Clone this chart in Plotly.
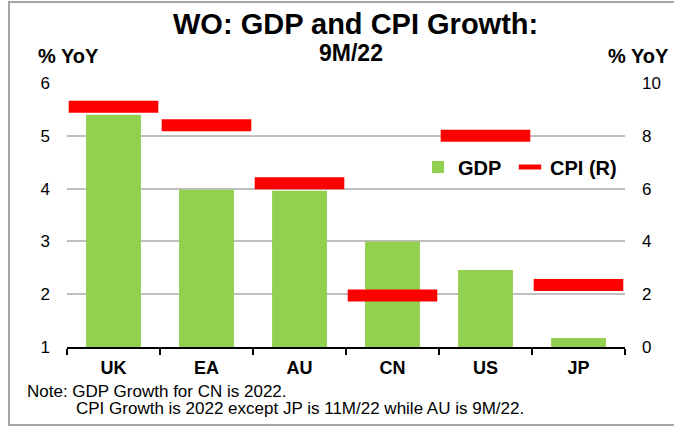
import plotly.graph_objects as go

categories = ["UK", "EA", "AU", "CN", "US", "JP"]
gdp_growth = [5.4, 3.98, 3.96, 3.0, 2.46, 1.17]
cpi_growth = [9.1, 8.4, 6.2, 1.95, 8.0, 2.35]
left_ticks = [1, 2, 3, 4, 5, 6]
right_ticks = [0, 2, 4, 6, 8, 10]

W, H = 674, 427
L, R, T, B = 67, 49, 83, 80
pw, ph = W - L - R, H - T - B

def px_x(p):
    return (p - L) / pw

def px_y(p):
    return (H - B - p) / ph

FONT = "Arial, Liberation Sans, sans-serif"
GREEN = "#92D050"
RED = "#FF0000"

fig = go.Figure()
fig.add_trace(go.Bar(
    x=categories, y=gdp_growth, name="GDP",
    marker=dict(color=GREEN, line=dict(width=0)),
    width=0.59, yaxis="y", legend="legend",
))
fig.add_trace(go.Scatter(
    x=categories, y=cpi_growth, name="CPI (R)", yaxis="y2",
    mode="markers", legend="legend2",
    marker=dict(symbol="line-ew", size=64, color=RED,
                line=dict(color=RED, width=12)),
))

legend_font = dict(size=20, family=FONT, color="black", weight="bold")

fig.update_layout(
    width=W, height=H,
    margin=dict(l=L, r=R, t=T, b=B, autoexpand=False),
    paper_bgcolor="white", plot_bgcolor="white",
    font=dict(family=FONT, color="black"),
    showlegend=True,
    legend=dict(
        orientation="h", x=px_x(418), y=px_y(167),
        xanchor="left", yanchor="middle",
        bgcolor="rgba(0,0,0,0)", font=legend_font, itemwidth=30,
    ),
    legend2=dict(
        orientation="h", x=px_x(510), y=px_y(167),
        xanchor="left", yanchor="middle",
        bgcolor="rgba(0,0,0,0)", font=legend_font, itemwidth=30,
    ),
    xaxis=dict(
        type="category", range=[-0.5, 5.5],
        showline=True, linecolor="black", linewidth=1.5,
        ticks="outside", tickson="boundaries", ticklen=6,
        tickcolor="black", tickwidth=1.5,
        showgrid=False,
        tickfont=dict(size=18, family=FONT, color="black", weight="bold"),
        ticklabelstandoff=4,
    ),
    yaxis=dict(
        range=[1, 6], tickvals=left_ticks,
        showgrid=True, gridcolor="#BFBFBF", gridwidth=1.5,
        showline=False, zeroline=False, ticks="",
        tickfont=dict(size=17, family=FONT, color="black"),
        ticklabelstandoff=16,
    ),
    yaxis2=dict(
        range=[0, 10], tickvals=right_ticks,
        overlaying="y", side="right",
        showgrid=False, showline=False, zeroline=False, ticks="",
        tickfont=dict(size=17, family=FONT, color="black"),
        ticklabelstandoff=16,
    ),
)

annos = [
    dict(text="<b>WO: GDP and CPI Growth:</b>", x=px_x(356), y=px_y(24),
         size=29, xanchor="center"),
    dict(text="<b>9M/22</b>", x=px_x(351), y=px_y(53),
         size=23, xanchor="center"),
    dict(text="<b>% YoY</b>", x=px_x(68), y=px_y(56),
         size=20, xanchor="center"),
    dict(text="<b>% YoY</b>", x=px_x(638), y=px_y(56),
         size=20, xanchor="center"),
    dict(text="Note: GDP Growth for CN is 2022.", x=px_x(25), y=px_y(391),
         size=17, xanchor="left"),
    dict(text="CPI Growth is 2022 except JP is 11M/22 while AU is 9M/22.",
         x=px_x(74), y=px_y(408), size=17, xanchor="left"),
]
for a in annos:
    fig.add_annotation(
        text=a["text"], x=a["x"], y=a["y"], xref="paper", yref="paper",
        xanchor=a["xanchor"], yanchor="middle", showarrow=False,
        font=dict(size=a["size"], family=FONT, color="black"),
    )

fig.add_shape(
    type="rect", xref="paper", yref="paper",
    x0=px_x(9), x1=px_x(690), y0=px_y(425), y1=px_y(2),
    line=dict(color="#A6A6A6", width=2), fillcolor="rgba(0,0,0,0)",
    layer="below",
)

fig.write_html(
    "out.html",
    config={"displayModeBar": False},
    post_script="document.body.style.margin='0';document.body.style.overflow='hidden';",
)
